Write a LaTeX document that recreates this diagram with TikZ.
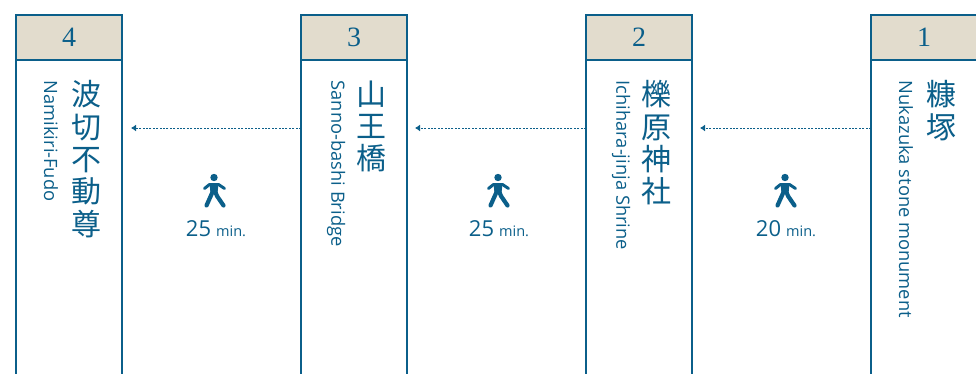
\documentclass[tikz,border=0pt]{standalone}
\usepackage{fontspec}
\newfontfamily\jpfont{Noto Sans CJK JP}
\newfontfamily\latinfont{Open Sans}
\newfontfamily\numfont{Liberation Serif}
\usepackage{tikz}
\usetikzlibrary{positioning, arrows.meta}
\definecolor{routeblue}{HTML}{0B5F8A}
\definecolor{headtan}{HTML}{E2DCCD}
\tikzset{x=1pt,y=-1pt,
node distance=0pt,
stationhead/.style={draw=routeblue, line width=2.8pt, fill=headtan, text=routeblue,
  minimum width=106pt, minimum height=45pt, inner sep=0pt, outer sep=0pt,
  font=\numfont\fontsize{28}{28}\selectfont},
stationbody/.style={draw=routeblue, line width=2.6pt, fill=white,
  minimum width=106pt, minimum height=340pt, inner sep=0pt, outer sep=0pt},
jpname/.style={anchor=north, text=routeblue, align=center, inner sep=0pt,
  font=\jpfont\fontsize{30}{32.3}\selectfont},
enname/.style={anchor=west, rotate=-90, text=routeblue, inner sep=0pt,
  font=\latinfont\fontsize{18.3}{20}\selectfont},
timelabel/.style={text=routeblue, inner sep=0pt,
  font=\latinfont\fontsize{22}{23}\selectfont},
walkleg/.style={draw=routeblue, line width=4.2pt, line cap=round, line join=round},
walkroute/.style={draw=routeblue, line width=0.9pt, dash pattern=on 2pt off 1.4pt,
  -{Latex[length=5pt,width=7pt]}},
walker/.pic={
  \fill[routeblue] (0,-12.5) circle (3.7);
  \path[walkleg, line width=3pt] (-9.5,-1.5) -- (-4.5,-5.5) -- (4.5,-5.5) -- (10.5,-1.5);
  \fill[routeblue] (-4.5,-6.5) -- (4.5,-6.5) -- (3.5,3) -- (-3.5,3) -- cycle;
  \path[walkleg] (-1,1) -- (-7.5,15.5);
  \path[walkleg] (1,1) -- (3,6) -- (9.5,15.5);
}}
\newcommand{\smallmin}{{\fontsize{14.5}{15}\selectfont\hspace{5pt}min.}}

\begin{document}
\begin{tikzpicture}
\useasboundingbox (0,0) rectangle (976,374);
\clip (0,0) rectangle (976,374);

\node[stationbody,anchor=north] (body4) at (69,59.5) {};
\node[stationbody,right=179pt of body4] (body3) {};
\node[stationbody,right=179pt of body3] (body2) {};
\node[stationbody,right=179pt of body2] (body1) {};

\node[stationhead,above=-0.5pt of body4] (head4) {4};
\node[stationhead,above=-0.5pt of body3] (head3) {3};
\node[stationhead,above=-0.5pt of body2] (head2) {2};
\node[stationhead,above=-0.5pt of body1] (head1) {1};

\node[jpname] (jp4) at ([xshift=17.5pt,yshift=-20.5pt]head4.south) {波\\切\\不\\動\\尊};
\node[jpname] (jp3) at ([xshift=17.5pt,yshift=-20.5pt]head3.south) {山\\王\\橋};
\node[jpname] (jp2) at ([xshift=17.5pt,yshift=-20.5pt]head2.south) {櫟\\原\\神\\社};
\node[jpname] (jp1) at ([xshift=17.5pt,yshift=-20.5pt]head1.south) {糠\\塚};

\node[enname] (en4) at ([xshift=-18pt,yshift=-20.5pt]head4.south) {Namikiri-Fudo};
\node[enname] (en3) at ([xshift=-18pt,yshift=-20.5pt]head3.south) {Sanno-bashi Bridge};
\node[enname] (en2) at ([xshift=-18pt,yshift=-20.5pt]head2.south) {Ichihara-jinja Shrine};
\node[enname] (en1) at ([xshift=-18pt,yshift=-20.5pt]head1.south) {Nukazuka stone monument};

\coordinate (start3) at (body3.west |- 0,128);
\coordinate (start2) at (body2.west |- 0,128);
\coordinate (start1) at (body1.west |- 0,128);
\coordinate (tip4) at (131,128);
\coordinate (tip3) at (415,128);
\coordinate (tip2) at (700,128);
\draw[walkroute] (start3) -- (tip4);
\draw[walkroute] (start2) -- (tip3);
\draw[walkroute] (start1) -- (tip2);

\pic at (214,190) {walker};
\pic at (498,190) {walker};
\pic at (785,190) {walker};

\node[timelabel] (time4) at (216,229) {25\smallmin};
\node[timelabel] (time3) at (499,229) {25\smallmin};
\node[timelabel] (time2) at (786,229) {20\smallmin};
\end{tikzpicture}
\end{document}
